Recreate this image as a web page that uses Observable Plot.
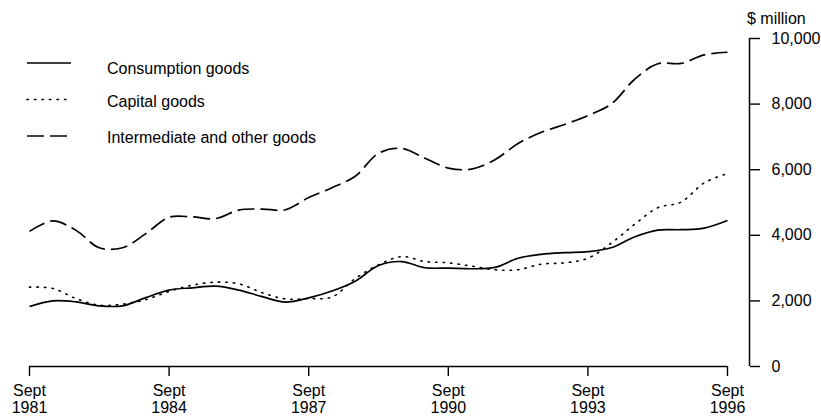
<!DOCTYPE html>
<html><head><meta charset="utf-8">
<script src="https://cdn.jsdelivr.net/npm/d3@7"></script>
<script src="https://cdn.jsdelivr.net/npm/@observablehq/plot@0.6"></script>
<style>
body{margin:0;background:#fff;}
#wrap{position:relative;width:821px;height:417px;font-family:"Liberation Sans",Arial,Helvetica,sans-serif;}
#wrap svg{display:block}
#overlay{position:absolute;left:0;top:0;pointer-events:none}
</style></head><body><div id="wrap"></div>
<script>
// Half-yearly periods (year-month)
const periods = ["1981-09","1982-03","1982-09","1983-03","1983-09","1984-03","1984-09","1985-03","1985-09","1986-03",
  "1986-09","1987-03","1987-09","1988-03","1988-09","1989-03","1989-09","1990-03","1990-09","1991-03",
  "1991-09","1992-03","1992-09","1993-03","1993-09","1994-03","1994-09","1995-03","1995-09","1996-03","1996-09"];
const consumption = [1830,2000,1970,1850,1850,2100,2330,2400,2450,2330,
  2130,1960,2090,2300,2600,3080,3200,3010,3000,2980,
  3020,3300,3420,3470,3500,3620,3950,4160,4170,4220,4450];
const capital = [2420,2380,2070,1870,1900,2040,2290,2480,2570,2520,
  2250,2060,2070,2120,2680,3100,3350,3200,3160,3060,
  2950,2950,3120,3160,3300,3760,4330,4840,5010,5600,5880];
const intermediate = [4120,4440,4150,3620,3620,4050,4550,4560,4510,4770,
  4800,4780,5150,5450,5800,6500,6650,6350,6050,6020,
  6300,6800,7140,7380,7650,8000,8750,9230,9240,9500,9580];
const seriesNames = ["Consumption goods","Capital goods","Intermediate and other goods"];
const tickPeriods = ["1981-09","1984-09","1987-09","1990-09","1993-09","1996-09"];
const tickLabels = ["Sept\n1981","Sept\n1984","Sept\n1987","Sept\n1990","Sept\n1993","Sept\n1996"];
const yTicks = [0,2000,4000,6000,8000,10000];
const yUnit = "$ million";

const toT = p => { const [y, m] = p.split("-").map(Number); return y + m / 12; };
const dashes = ["none", "1.4,6.1", "17,6"];
const widths = [1.7, 1.6, 1.7];
const seriesValues = [consumption, capital, intermediate];
const rows = [];
seriesValues.forEach((vals, i) => vals.forEach((v, j) => rows.push({series: seriesNames[i], t: toT(periods[j]), value: v})));
const tickT = tickPeriods.map(toT);
const labelOf = new Map(tickT.map((t, i) => [t, tickLabels[i]]));
const tStart = toT(periods[0]), tEnd = toT(periods[periods.length - 1]);

const chart = Plot.plot({
  width: 821, height: 417,
  marginLeft: 29, marginRight: 94, marginTop: 38, marginBottom: 51,
  style: {fontFamily: '"Liberation Sans", Arial, Helvetica, sans-serif', fontSize: "16px", color: "#000", background: "#fff"},
  x: {domain: [tStart, tEnd]},
  y: {domain: [0, 10000]},
  marks: [
    Plot.ruleY([0], {stroke: "#000", strokeWidth: 1.5}),
    Plot.ruleX([tEnd], {y1: 0, y2: 10000, dx: 22, stroke: "#000", strokeWidth: 1.5}),
    Plot.axisX({ticks: tickT, tickFormat: d => labelOf.get(d), tickSize: 10, tickPadding: 8, lineHeight: 1.05, label: null, stroke: "#000", strokeWidth: 1.4}),
    Plot.axisY({anchor: "right", ticks: yTicks, tickFormat: d3.format(","), tickSize: 10, tickPadding: 12, dx: 22, label: null, stroke: "#000", strokeWidth: 1.4}),
    ...seriesNames.map((name, i) => Plot.line(rows.filter(r => r.series === name), {
      x: "t", y: "value", curve: "catmull-rom", stroke: "#000", strokeWidth: widths[i],
      strokeDasharray: dashes[i], strokeLinecap: i === 1 ? "round" : "butt"
    }))
  ]
});
const wrap = document.getElementById("wrap");
wrap.appendChild(chart);

// Legend + unit label overlay
const ov = d3.select(wrap).append("svg").attr("id", "overlay").attr("width", 821).attr("height", 417)
  .style("font-family", '"Liberation Sans", Arial, Helvetica, sans-serif').style("font-size", "16px");
const lineY = [63, 99.5, 136], textY = [73.5, 106.5, 142.7];
seriesNames.forEach((name, i) => {
  ov.append("line").attr("x1", 27).attr("x2", 71).attr("y1", lineY[i]).attr("y2", lineY[i])
    .attr("stroke", "#000").attr("stroke-width", widths[i])
    .attr("stroke-dasharray", dashes[i]).attr("stroke-linecap", i === 1 ? "round" : "butt");
  ov.append("text").attr("x", 107).attr("y", textY[i]).attr("fill", "#000").text(name);
});
ov.append("text").attr("x", 747).attr("y", 24).attr("fill", "#000").text(yUnit);
</script></body></html>
